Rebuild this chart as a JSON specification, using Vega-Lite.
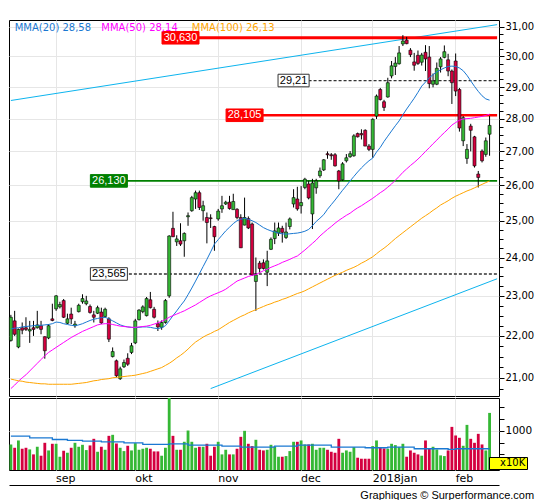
{
  "$schema": "https://vega.github.io/schema/vega-lite/v6.json",
  "description": "Candlestick chart with MMA(20/50/100), support/resistance levels, trend lines and volume panel, Aug 2017 - Feb 2018",
  "padding": {"left": 7, "top": 19, "right": 5, "bottom": 2},
  "config": {
    "view": {"stroke": "black", "strokeWidth": 1},
    "axis": {"labelColor": "black", "tickColor": "black"}
  },
  "datasets": {
    "days": [
      {"d":"2017-08-16","o":21.89,"h":22.52,"l":21.86,"c":22.46,"v":653,"vm":865,"m20":22.17,"m50":20.75,"m100":20.97},
      {"d":"2017-08-17","o":22.37,"h":22.62,"l":22.00,"c":22.04,"v":568,"vm":865,"m20":22.19,"m50":20.83,"m100":20.95},
      {"d":"2017-08-18","o":21.73,"h":22.18,"l":21.70,"c":22.16,"v":755,"vm":865,"m20":22.20,"m50":20.92,"m100":20.93},
      {"d":"2017-08-21","o":22.20,"h":22.33,"l":22.04,"c":22.14,"v":543,"vm":865,"m20":22.22,"m50":21.00,"m100":20.92},
      {"d":"2017-08-22","o":22.20,"h":22.46,"l":22.12,"c":22.16,"v":568,"vm":865,"m20":22.23,"m50":21.07,"m100":20.90},
      {"d":"2017-08-23","o":22.12,"h":22.37,"l":21.83,"c":22.16,"v":526,"vm":823,"m20":22.24,"m50":21.16,"m100":20.89},
      {"d":"2017-08-24","o":22.20,"h":22.37,"l":22.00,"c":22.16,"v":399,"vm":823,"m20":22.25,"m50":21.25,"m100":20.88},
      {"d":"2017-08-25","o":22.20,"h":22.62,"l":22.18,"c":22.27,"v":594,"vm":823,"m20":22.26,"m50":21.34,"m100":20.87},
      {"d":"2017-08-28","o":22.25,"h":22.37,"l":22.04,"c":22.16,"v":365,"vm":823,"m20":22.26,"m50":21.43,"m100":20.86},
      {"d":"2017-08-29","o":21.98,"h":21.99,"l":21.45,"c":21.64,"v":695,"vm":823,"m20":22.27,"m50":21.52,"m100":20.86},
      {"d":"2017-08-30","o":21.95,"h":22.29,"l":21.92,"c":22.25,"v":500,"vm":823,"m20":22.28,"m50":21.60,"m100":20.85},
      {"d":"2017-08-31","o":22.42,"h":22.80,"l":22.36,"c":22.38,"v":670,"vm":780,"m20":22.30,"m50":21.66,"m100":20.85},
      {"d":"2017-09-01","o":22.67,"h":23.02,"l":22.62,"c":23.00,"v":670,"vm":780,"m20":22.34,"m50":21.72,"m100":20.85},
      {"d":"2017-09-04","o":22.72,"h":22.85,"l":22.68,"c":22.78,"v":339,"vm":780,"m20":22.33,"m50":21.78,"m100":20.85},
      {"d":"2017-09-05","o":22.88,"h":22.92,"l":22.44,"c":22.46,"v":492,"vm":780,"m20":22.30,"m50":21.84,"m100":20.85},
      {"d":"2017-09-06","o":22.31,"h":22.55,"l":22.29,"c":22.42,"v":441,"vm":755,"m20":22.28,"m50":21.90,"m100":20.85},
      {"d":"2017-09-07","o":22.54,"h":22.70,"l":22.29,"c":22.42,"v":568,"vm":755,"m20":22.26,"m50":21.96,"m100":20.85},
      {"d":"2017-09-08","o":22.25,"h":22.37,"l":22.20,"c":22.29,"v":695,"vm":755,"m20":22.25,"m50":22.01,"m100":20.86},
      {"d":"2017-09-11","o":22.60,"h":22.80,"l":22.58,"c":22.76,"v":594,"vm":755,"m20":22.27,"m50":22.06,"m100":20.87},
      {"d":"2017-09-12","o":22.85,"h":23.04,"l":22.80,"c":22.93,"v":644,"vm":738,"m20":22.30,"m50":22.11,"m100":20.88},
      {"d":"2017-09-13","o":22.80,"h":23.00,"l":22.76,"c":22.87,"v":509,"vm":738,"m20":22.34,"m50":22.15,"m100":20.89},
      {"d":"2017-09-14","o":22.73,"h":22.78,"l":22.55,"c":22.58,"v":628,"vm":738,"m20":22.38,"m50":22.19,"m100":20.91},
      {"d":"2017-09-15","o":22.52,"h":22.62,"l":22.33,"c":22.46,"v":797,"vm":738,"m20":22.41,"m50":22.23,"m100":20.93},
      {"d":"2017-09-18","o":22.56,"h":22.75,"l":22.54,"c":22.70,"v":466,"vm":738,"m20":22.43,"m50":22.27,"m100":20.94},
      {"d":"2017-09-19","o":22.59,"h":22.70,"l":22.29,"c":22.32,"v":594,"vm":721,"m20":22.45,"m50":22.29,"m100":20.96},
      {"d":"2017-09-20","o":22.48,"h":22.70,"l":22.44,"c":22.66,"v":517,"vm":721,"m20":22.46,"m50":22.30,"m100":20.97},
      {"d":"2017-09-21","o":22.42,"h":22.46,"l":21.85,"c":21.92,"v":873,"vm":721,"m20":22.42,"m50":22.30,"m100":20.98},
      {"d":"2017-09-22","o":21.50,"h":21.72,"l":21.48,"c":21.62,"v":899,"vm":721,"m20":22.37,"m50":22.28,"m100":21.00},
      {"d":"2017-09-25","o":21.40,"h":21.43,"l":21.01,"c":21.05,"v":678,"vm":721,"m20":22.32,"m50":22.26,"m100":21.01},
      {"d":"2017-09-26","o":20.98,"h":21.26,"l":20.95,"c":21.21,"v":568,"vm":721,"m20":22.27,"m50":22.24,"m100":21.02},
      {"d":"2017-09-27","o":21.26,"h":21.43,"l":21.23,"c":21.36,"v":483,"vm":695,"m20":22.24,"m50":22.23,"m100":21.03},
      {"d":"2017-09-28","o":21.46,"h":21.58,"l":21.28,"c":21.32,"v":619,"vm":695,"m20":22.22,"m50":22.22,"m100":21.04},
      {"d":"2017-09-29","o":21.60,"h":21.83,"l":21.56,"c":21.76,"v":500,"vm":695,"m20":22.21,"m50":22.21,"m100":21.05},
      {"d":"2017-10-02","o":21.83,"h":22.42,"l":21.80,"c":22.37,"v":687,"vm":695,"m20":22.20,"m50":22.21,"m100":21.06},
      {"d":"2017-10-03","o":22.40,"h":22.66,"l":22.38,"c":22.64,"v":517,"vm":695,"m20":22.21,"m50":22.22,"m100":21.08},
      {"d":"2017-10-04","o":22.60,"h":22.76,"l":22.56,"c":22.72,"v":543,"vm":653,"m20":22.22,"m50":22.23,"m100":21.10},
      {"d":"2017-10-05","o":22.50,"h":22.97,"l":22.48,"c":22.93,"v":568,"vm":653,"m20":22.22,"m50":22.24,"m100":21.12},
      {"d":"2017-10-06","o":22.90,"h":23.10,"l":22.68,"c":22.70,"v":543,"vm":653,"m20":22.21,"m50":22.26,"m100":21.15},
      {"d":"2017-10-09","o":22.66,"h":22.72,"l":22.43,"c":22.46,"v":475,"vm":653,"m20":22.19,"m50":22.29,"m100":21.18},
      {"d":"2017-10-10","o":22.30,"h":22.38,"l":22.12,"c":22.22,"v":475,"vm":653,"m20":22.18,"m50":22.32,"m100":21.21},
      {"d":"2017-10-11","o":22.21,"h":22.38,"l":22.15,"c":22.33,"v":365,"vm":653,"m20":22.20,"m50":22.36,"m100":21.24},
      {"d":"2017-10-12","o":22.33,"h":22.92,"l":22.30,"c":22.88,"v":568,"vm":653,"m20":22.25,"m50":22.40,"m100":21.29},
      {"d":"2017-10-13","o":23.00,"h":24.60,"l":22.95,"c":24.58,"v":1840,"vm":670,"m20":22.37,"m50":22.46,"m100":21.34},
      {"d":"2017-10-16","o":24.79,"h":25.25,"l":24.55,"c":24.56,"v":873,"vm":670,"m20":22.50,"m50":22.50,"m100":21.40},
      {"d":"2017-10-17","o":24.42,"h":24.60,"l":24.31,"c":24.50,"v":517,"vm":670,"m20":22.62,"m50":22.54,"m100":21.47},
      {"d":"2017-10-18","o":24.45,"h":24.93,"l":24.31,"c":24.36,"v":517,"vm":670,"m20":22.75,"m50":22.58,"m100":21.53},
      {"d":"2017-10-19","o":24.45,"h":24.68,"l":24.02,"c":24.65,"v":721,"vm":670,"m20":22.87,"m50":22.62,"m100":21.60},
      {"d":"2017-10-20","o":25.11,"h":25.23,"l":24.86,"c":25.14,"v":1009,"vm":636,"m20":23.03,"m50":22.67,"m100":21.68},
      {"d":"2017-10-23","o":25.28,"h":25.70,"l":25.25,"c":25.65,"v":721,"vm":636,"m20":23.20,"m50":22.72,"m100":21.77},
      {"d":"2017-10-24","o":25.61,"h":25.85,"l":25.33,"c":25.79,"v":568,"vm":636,"m20":23.38,"m50":22.77,"m100":21.85},
      {"d":"2017-10-25","o":25.79,"h":25.85,"l":25.30,"c":25.37,"v":594,"vm":636,"m20":23.57,"m50":22.83,"m100":21.91},
      {"d":"2017-10-26","o":25.28,"h":25.56,"l":25.00,"c":25.42,"v":594,"vm":636,"m20":23.76,"m50":22.89,"m100":21.97},
      {"d":"2017-10-27","o":25.09,"h":25.23,"l":24.38,"c":24.95,"v":670,"vm":636,"m20":23.95,"m50":22.95,"m100":22.02},
      {"d":"2017-10-30","o":25.08,"h":25.18,"l":24.80,"c":25.06,"v":365,"vm":636,"m20":24.15,"m50":23.00,"m100":22.06},
      {"d":"2017-10-31","o":24.84,"h":24.86,"l":24.18,"c":24.56,"v":594,"vm":636,"m20":24.36,"m50":23.04,"m100":22.11},
      {"d":"2017-11-01","o":25.05,"h":25.33,"l":25.00,"c":25.27,"v":721,"vm":636,"m20":24.48,"m50":23.08,"m100":22.15},
      {"d":"2017-11-02","o":25.33,"h":25.70,"l":25.22,"c":25.42,"v":399,"vm":611,"m20":24.60,"m50":23.12,"m100":22.21},
      {"d":"2017-11-03","o":25.47,"h":25.56,"l":25.44,"c":25.52,"v":517,"vm":611,"m20":24.72,"m50":23.17,"m100":22.27},
      {"d":"2017-11-06","o":25.52,"h":25.70,"l":25.31,"c":25.34,"v":399,"vm":611,"m20":24.82,"m50":23.24,"m100":22.33},
      {"d":"2017-11-07","o":25.31,"h":25.76,"l":25.31,"c":25.54,"v":399,"vm":611,"m20":24.92,"m50":23.31,"m100":22.38},
      {"d":"2017-11-08","o":25.32,"h":25.35,"l":25.04,"c":25.09,"v":543,"vm":611,"m20":25.00,"m50":23.38,"m100":22.43},
      {"d":"2017-11-09","o":25.09,"h":25.18,"l":24.26,"c":24.26,"v":848,"vm":585,"m20":25.04,"m50":23.42,"m100":22.48},
      {"d":"2017-11-10","o":24.88,"h":25.65,"l":24.87,"c":25.09,"v":1001,"vm":585,"m20":25.07,"m50":23.46,"m100":22.52},
      {"d":"2017-11-13","o":25.06,"h":25.12,"l":24.77,"c":24.80,"v":670,"vm":585,"m20":25.04,"m50":23.50,"m100":22.57},
      {"d":"2017-11-14","o":24.91,"h":24.95,"l":23.52,"c":23.54,"v":611,"vm":585,"m20":25.00,"m50":23.53,"m100":22.61},
      {"d":"2017-11-15","o":23.37,"h":24.00,"l":22.62,"c":23.54,"v":772,"vm":585,"m20":24.95,"m50":23.55,"m100":22.65},
      {"d":"2017-11-16","o":23.85,"h":23.91,"l":23.60,"c":23.71,"v":517,"vm":585,"m20":24.88,"m50":23.60,"m100":22.69},
      {"d":"2017-11-17","o":23.86,"h":23.95,"l":23.68,"c":23.71,"v":500,"vm":585,"m20":24.81,"m50":23.65,"m100":22.73},
      {"d":"2017-11-20","o":23.61,"h":24.18,"l":23.25,"c":23.91,"v":517,"vm":585,"m20":24.76,"m50":23.69,"m100":22.77},
      {"d":"2017-11-21","o":24.22,"h":24.54,"l":24.20,"c":24.49,"v":644,"vm":585,"m20":24.72,"m50":23.74,"m100":22.80},
      {"d":"2017-11-22","o":24.51,"h":24.95,"l":24.36,"c":24.72,"v":600,"vm":611,"m20":24.69,"m50":23.78,"m100":22.84},
      {"d":"2017-11-23","o":24.66,"h":24.95,"l":24.58,"c":24.80,"v":339,"vm":611,"m20":24.66,"m50":23.82,"m100":22.87},
      {"d":"2017-11-24","o":24.79,"h":24.86,"l":24.40,"c":24.68,"v":339,"vm":611,"m20":24.64,"m50":23.87,"m100":22.91},
      {"d":"2017-11-27","o":24.54,"h":24.95,"l":24.50,"c":24.69,"v":356,"vm":611,"m20":24.63,"m50":23.91,"m100":22.94},
      {"d":"2017-11-28","o":24.84,"h":25.09,"l":24.76,"c":25.05,"v":483,"vm":611,"m20":24.64,"m50":23.95,"m100":22.98},
      {"d":"2017-11-29","o":25.47,"h":25.89,"l":25.37,"c":25.65,"v":721,"vm":611,"m20":24.65,"m50":24.00,"m100":23.02},
      {"d":"2017-11-30","o":25.61,"h":25.96,"l":25.28,"c":25.33,"v":721,"vm":636,"m20":24.66,"m50":24.04,"m100":23.06},
      {"d":"2017-12-01","o":25.42,"h":25.98,"l":25.20,"c":25.51,"v":755,"vm":636,"m20":24.68,"m50":24.12,"m100":23.09},
      {"d":"2017-12-04","o":25.94,"h":26.22,"l":25.89,"c":26.18,"v":653,"vm":636,"m20":24.71,"m50":24.20,"m100":23.13},
      {"d":"2017-12-05","o":26.04,"h":26.13,"l":25.60,"c":25.64,"v":653,"vm":636,"m20":24.76,"m50":24.29,"m100":23.18},
      {"d":"2017-12-06","o":25.19,"h":26.19,"l":24.77,"c":26.07,"v":670,"vm":636,"m20":24.86,"m50":24.38,"m100":23.23},
      {"d":"2017-12-07","o":25.93,"h":26.19,"l":25.76,"c":26.13,"v":517,"vm":636,"m20":24.98,"m50":24.47,"m100":23.28},
      {"d":"2017-12-08","o":26.28,"h":26.52,"l":26.22,"c":26.42,"v":568,"vm":636,"m20":25.07,"m50":24.58,"m100":23.33},
      {"d":"2017-12-11","o":26.45,"h":26.77,"l":26.42,"c":26.75,"v":568,"vm":636,"m20":25.17,"m50":24.67,"m100":23.38},
      {"d":"2017-12-12","o":26.93,"h":27.00,"l":26.78,"c":26.90,"v":517,"vm":636,"m20":25.32,"m50":24.76,"m100":23.43},
      {"d":"2017-12-13","o":26.90,"h":26.95,"l":26.75,"c":26.87,"v":466,"vm":585,"m20":25.45,"m50":24.84,"m100":23.48},
      {"d":"2017-12-14","o":26.90,"h":26.95,"l":26.55,"c":26.57,"v":441,"vm":585,"m20":25.58,"m50":24.93,"m100":23.53},
      {"d":"2017-12-15","o":26.42,"h":26.45,"l":25.89,"c":26.13,"v":797,"vm":585,"m20":25.72,"m50":25.01,"m100":23.57},
      {"d":"2017-12-18","o":26.16,"h":26.68,"l":26.13,"c":26.63,"v":441,"vm":585,"m20":25.86,"m50":25.08,"m100":23.61},
      {"d":"2017-12-19","o":26.72,"h":26.92,"l":26.67,"c":26.81,"v":500,"vm":585,"m20":25.99,"m50":25.15,"m100":23.66},
      {"d":"2017-12-20","o":26.84,"h":27.01,"l":26.81,"c":26.93,"v":466,"vm":585,"m20":26.13,"m50":25.21,"m100":23.70},
      {"d":"2017-12-21","o":26.87,"h":27.52,"l":26.84,"c":27.47,"v":585,"vm":585,"m20":26.26,"m50":25.29,"m100":23.74},
      {"d":"2017-12-22","o":27.54,"h":27.57,"l":27.42,"c":27.44,"v":314,"vm":585,"m20":26.39,"m50":25.36,"m100":23.79},
      {"d":"2017-12-27","o":27.54,"h":27.67,"l":27.36,"c":27.50,"v":288,"vm":585,"m20":26.51,"m50":25.42,"m100":23.85},
      {"d":"2017-12-28","o":27.64,"h":27.67,"l":27.16,"c":27.16,"v":288,"vm":568,"m20":26.62,"m50":25.49,"m100":23.90},
      {"d":"2017-12-29","o":27.16,"h":27.22,"l":27.01,"c":27.06,"v":288,"vm":568,"m20":26.72,"m50":25.56,"m100":23.96},
      {"d":"2018-01-02","o":27.06,"h":28.01,"l":26.81,"c":27.98,"v":611,"vm":568,"m20":26.80,"m50":25.63,"m100":24.02},
      {"d":"2018-01-03","o":28.08,"h":28.76,"l":27.99,"c":28.71,"v":755,"vm":568,"m20":26.98,"m50":25.71,"m100":24.10},
      {"d":"2018-01-04","o":28.92,"h":28.97,"l":28.57,"c":28.60,"v":585,"vm":568,"m20":27.12,"m50":25.79,"m100":24.18},
      {"d":"2018-01-05","o":28.53,"h":28.59,"l":28.24,"c":28.35,"v":551,"vm":568,"m20":27.30,"m50":25.86,"m100":24.25},
      {"d":"2018-01-08","o":28.68,"h":29.30,"l":28.66,"c":29.14,"v":543,"vm":585,"m20":27.46,"m50":25.95,"m100":24.33},
      {"d":"2018-01-09","o":29.36,"h":29.85,"l":29.28,"c":29.69,"v":670,"vm":585,"m20":27.62,"m50":26.04,"m100":24.42},
      {"d":"2018-01-10","o":29.67,"h":29.98,"l":29.39,"c":29.78,"v":636,"vm":585,"m20":27.78,"m50":26.15,"m100":24.51},
      {"d":"2018-01-11","o":29.76,"h":30.35,"l":29.73,"c":30.12,"v":585,"vm":585,"m20":27.93,"m50":26.26,"m100":24.59},
      {"d":"2018-01-12","o":30.42,"h":30.72,"l":30.35,"c":30.52,"v":670,"vm":585,"m20":28.12,"m50":26.38,"m100":24.67},
      {"d":"2018-01-15","o":30.55,"h":30.66,"l":30.41,"c":30.43,"v":339,"vm":585,"m20":28.30,"m50":26.48,"m100":24.75},
      {"d":"2018-01-16","o":30.21,"h":30.28,"l":29.98,"c":30.06,"v":500,"vm":585,"m20":28.47,"m50":26.58,"m100":24.83},
      {"d":"2018-01-17","o":29.82,"h":30.12,"l":29.53,"c":29.71,"v":441,"vm":543,"m20":28.64,"m50":26.67,"m100":24.91},
      {"d":"2018-01-18","o":30.04,"h":30.20,"l":29.72,"c":29.77,"v":399,"vm":543,"m20":28.83,"m50":26.77,"m100":24.99},
      {"d":"2018-01-19","o":29.81,"h":30.12,"l":29.70,"c":30.05,"v":365,"vm":543,"m20":29.03,"m50":26.88,"m100":25.07},
      {"d":"2018-01-22","o":30.14,"h":30.38,"l":29.52,"c":29.92,"v":755,"vm":543,"m20":29.16,"m50":27.00,"m100":25.14},
      {"d":"2018-01-23","o":29.98,"h":30.35,"l":28.96,"c":29.11,"v":543,"vm":543,"m20":29.30,"m50":27.11,"m100":25.21},
      {"d":"2018-01-24","o":29.09,"h":29.44,"l":28.99,"c":29.20,"v":594,"vm":543,"m20":29.40,"m50":27.23,"m100":25.29},
      {"d":"2018-01-25","o":29.09,"h":29.80,"l":29.06,"c":29.61,"v":526,"vm":543,"m20":29.49,"m50":27.34,"m100":25.36},
      {"d":"2018-01-26","o":29.66,"h":29.98,"l":29.47,"c":29.92,"v":373,"vm":543,"m20":29.56,"m50":27.46,"m100":25.44},
      {"d":"2018-01-29","o":29.97,"h":30.37,"l":29.94,"c":30.16,"v":356,"vm":543,"m20":29.62,"m50":27.57,"m100":25.50},
      {"d":"2018-01-30","o":29.89,"h":30.09,"l":29.35,"c":29.52,"v":500,"vm":526,"m20":29.67,"m50":27.68,"m100":25.56},
      {"d":"2018-01-31","o":29.52,"h":29.57,"l":28.46,"c":29.14,"v":1102,"vm":526,"m20":29.68,"m50":27.80,"m100":25.63},
      {"d":"2018-02-01","o":29.85,"h":30.10,"l":28.71,"c":28.87,"v":882,"vm":543,"m20":29.67,"m50":27.88,"m100":25.69},
      {"d":"2018-02-02","o":28.92,"h":28.97,"l":27.60,"c":27.71,"v":823,"vm":543,"m20":29.62,"m50":27.95,"m100":25.74},
      {"d":"2018-02-05","o":27.32,"h":28.08,"l":27.16,"c":28.03,"v":619,"vm":543,"m20":29.53,"m50":27.99,"m100":25.79},
      {"d":"2018-02-06","o":26.79,"h":27.22,"l":26.63,"c":27.06,"v":1153,"vm":543,"m20":29.38,"m50":28.00,"m100":25.84},
      {"d":"2018-02-07","o":27.77,"h":27.84,"l":27.00,"c":27.64,"v":797,"vm":543,"m20":29.20,"m50":28.01,"m100":25.88},
      {"d":"2018-02-08","o":27.44,"h":27.47,"l":26.52,"c":26.57,"v":695,"vm":543,"m20":29.02,"m50":28.03,"m100":25.93},
      {"d":"2018-02-09","o":26.33,"h":26.42,"l":25.94,"c":26.23,"v":924,"vm":543,"m20":28.86,"m50":28.05,"m100":25.98},
      {"d":"2018-02-12","o":27.01,"h":27.06,"l":26.67,"c":26.72,"v":653,"vm":543,"m20":28.72,"m50":28.07,"m100":26.03},
      {"d":"2018-02-13","o":26.91,"h":27.42,"l":26.84,"c":27.32,"v":500,"vm":543,"m20":28.62,"m50":28.10,"m100":26.08},
      {"d":"2018-02-14","o":27.52,"h":28.08,"l":26.87,"c":27.79,"v":1459,"vm":543,"m20":28.58,"m50":28.14,"m100":26.13}
    ],
    "trend": [
      {"d": "2017-08-16", "p": 28.57, "n": "upper"},
      {"d": "2018-02-16", "p": 31.08, "n": "upper"},
      {"d": "2017-10-30", "p": 20.75, "n": "lower"},
      {"d": "2018-02-16", "p": 23.44, "n": "lower"}
    ],
    "levels": [
      {"d": "2017-10-18", "v": 30.63, "t": "30,630", "k": "r"},
      {"d": "2017-11-10", "v": 28.105, "t": "28,105", "k": "t"},
      {"d": "2017-09-21", "v": 26.13, "t": "26,130", "k": "g"},
      {"d": "2017-11-29", "v": 29.21, "t": "29,21", "k": "n"},
      {"d": "2017-09-21", "v": 23.565, "t": "23,565", "k": "n"}
    ],
    "leg": [
      {"d": "2017-08-17", "t": "MMA(20)  28,58", "k": "m20"},
      {"d": "2017-09-19", "t": "MMA(50)  28,14", "k": "m50"},
      {"d": "2017-10-23", "t": "MMA(100)  26,13", "k": "m100"}
    ]
  },
  "title": {
    "text": "Graphiques © Surperformance.com",
    "orient": "bottom",
    "anchor": "end",
    "frame": "bounds",
    "font": "Liberation Sans",
    "fontSize": 11,
    "fontWeight": "normal",
    "color": "black",
    "offset": 4
  },
  "spacing": 0,
  "resolve": {"scale": {"x": "shared"}, "axis": {"x": "independent"}},
  "vconcat": [
    {
      "width": 490,
      "height": 376,
      "encoding": {
        "x": {
          "field": "d",
          "type": "ordinal",
          "scale": {"paddingInner": 0, "paddingOuter": 0, "align": 0, "round": false, "domain": {"unionWith": ["2018-02-15", "2018-02-16"]}},
          "axis": {
            "values": ["2017-09-01", "2017-10-02", "2017-11-01", "2017-12-01", "2018-01-02", "2018-02-01"],
            "labels": false,
            "ticks": false,
            "domain": false,
            "grid": true,
            "gridColor": "#e6e6e6",
            "bandPosition": 0.5,
            "title": null
          }
        }
      },
      "layer": [
        {
          "data": {"name": "trend"},
          "mark": {"type": "line", "color": "#0db4ee", "strokeWidth": 1, "clip": true},
          "encoding": {
            "y": {"field": "p", "type": "quantitative", "scale": {"type": "log", "domain": [20.58, 31.24], "nice": false}, "axis": null},
            "detail": {"field": "n"}
          }
        },
        {
          "data": {"name": "levels"},
          "mark": {"type": "rule", "clip": true},
          "encoding": {
            "x2": {"datum": "2018-02-16"},
            "y": {"field": "v", "type": "quantitative", "scale": {"type": "log", "domain": [20.58, 31.24], "nice": false}, "axis": null},
            "color": {"field": "k", "type": "nominal", "scale": {"domain": ["r", "t", "g", "n"], "range": ["#ff0000", "#ff0000", "#008000", "#333333"]}, "legend": null},
            "strokeWidth": {"field": "k", "type": "ordinal", "scale": {"domain": ["r", "t", "g", "n"], "range": [3, 1.3, 3, 1]}, "legend": null},
            "strokeDash": {"field": "k", "type": "nominal", "scale": {"domain": ["r", "t", "g", "n"], "range": [[1, 0], [1, 0], [1, 0], [3, 2]]}, "legend": null}
          }
        },
        {
          "data": {"name": "days"},
          "mark": {"type": "rule", "color": "black", "strokeWidth": 1},
          "encoding": {
            "y": {
              "field": "l",
              "type": "quantitative",
              "scale": {"type": "log", "domain": [20.58, 31.24], "nice": false},
              "axis": {
                "orient": "right",
                "values": [20.75, 21, 21.25, 21.5, 21.75, 22, 22.25, 22.5, 22.75, 23, 23.25, 23.5, 23.75, 24, 24.25, 24.5, 24.75, 25, 25.25, 25.5, 25.75, 26, 26.25, 26.5, 26.75, 27, 27.25, 27.5, 27.75, 28, 28.25, 28.5, 28.75, 29, 29.25, 29.5, 29.75, 30, 30.25, 30.5, 30.75, 31],
                "labelExpr": "datum.value % 1 === 0 ? replace(format(datum.value, '.2f'), '.', ',') : ''",
                "tickSize": {"condition": {"test": "datum.value % 1 === 0", "value": 5}, "value": 4},
                "grid": true,
                "gridColor": "#e6e6e6",
                "gridOpacity": {"condition": {"test": "datum.value % 1 === 0", "value": 1}, "value": 0},
                "domain": false,
                "labelFont": "DejaVu Sans",
                "labelFontSize": 10,
                "labelPadding": 1,
                "labelOverlap": false,
                "labelFlush": false,
                "title": null
              }
            },
            "y2": {"field": "h"}
          }
        },
        {
          "data": {"name": "days"},
          "mark": {"type": "bar", "width": {"band": 0.8}, "stroke": "black", "strokeWidth": 0.6},
          "encoding": {
            "y": {"field": "o", "type": "quantitative", "scale": {"type": "log", "domain": [20.58, 31.24], "nice": false}, "axis": null},
            "y2": {"field": "c"},
            "color": {"condition": {"test": "datum.c >= datum.o", "value": "#35b835"}, "value": "#d4003f"}
          }
        },
        {
          "data": {"name": "days"},
          "mark": {"type": "line", "color": "#1a78d2", "strokeWidth": 1},
          "encoding": {"y": {"field": "m20", "type": "quantitative", "scale": {"type": "log", "domain": [20.58, 31.24], "nice": false}, "axis": null}}
        },
        {
          "data": {"name": "days"},
          "mark": {"type": "line", "color": "#ff00ff", "strokeWidth": 1},
          "encoding": {"y": {"field": "m50", "type": "quantitative", "scale": {"type": "log", "domain": [20.58, 31.24], "nice": false}, "axis": null}}
        },
        {
          "data": {"name": "days"},
          "mark": {"type": "line", "color": "#ffa500", "strokeWidth": 1},
          "encoding": {"y": {"field": "m100", "type": "quantitative", "scale": {"type": "log", "domain": [20.58, 31.24], "nice": false}, "axis": null}}
        },
        {
          "data": {"name": "levels"},
          "mark": {"type": "point", "filled": true, "size": 1369, "strokeWidth": 1, "opacity": 1},
          "encoding": {
            "y": {"field": "v", "type": "quantitative", "scale": {"type": "log", "domain": [20.58, 31.24], "nice": false}, "axis": null},
            "shape": {"condition": {"test": "datum.t === '29,21'", "value": "M-0.84,-0.34H0.84V0.34H-0.84Z"}, "value": "M-1,-0.34H1V0.34H-1Z"},
            "fill": {"condition": [{"test": "datum.k === 'g'", "value": "#008000"}, {"test": "datum.k === 'n'", "value": "#ffffff"}], "value": "#ff0000"},
            "stroke": {"condition": [{"test": "datum.k === 'g'", "value": "#008000"}, {"test": "datum.k === 'n'", "value": "#333333"}], "value": "#ff0000"}
          }
        },
        {
          "data": {"name": "levels"},
          "mark": {"type": "text", "font": "Liberation Sans", "fontSize": 11, "align": "center", "baseline": "middle"},
          "encoding": {
            "y": {"field": "v", "type": "quantitative", "scale": {"type": "log", "domain": [20.58, 31.24], "nice": false}, "axis": null},
            "text": {"field": "t"},
            "color": {"condition": {"test": "datum.k === 'n'", "value": "black"}, "value": "white"}
          }
        },
        {
          "data": {"name": "leg"},
          "mark": {"type": "text", "font": "DejaVu Sans", "fontSize": 10, "align": "left", "baseline": "middle"},
          "encoding": {
            "y": {"datum": 30.97, "type": "quantitative", "scale": {"type": "log", "domain": [20.58, 31.24], "nice": false}, "axis": null},
            "text": {"field": "t"},
            "color": {"condition": [{"test": "datum.k === 'm20'", "value": "#1a78d2"}, {"test": "datum.k === 'm50'", "value": "#ff00ff"}], "value": "#ffa500"}
          }
        }
      ],
      "resolve": {"axis": {"y": "independent"}}
    },
    {
      "width": 490,
      "height": 72,
      "data": {"name": "days"},
      "encoding": {
        "x": {
          "field": "d",
          "type": "ordinal",
          "scale": {"paddingInner": 0, "paddingOuter": 0, "align": 0, "round": false, "domain": {"unionWith": ["2018-02-15", "2018-02-16"]}},
          "axis": {
            "values": ["2017-09-01", "2017-10-02", "2017-11-01", "2017-12-01", "2018-01-02", "2018-02-01"],
            "labelExpr": "datum.value == '2017-09-01' ? 'sep' : datum.value == '2017-10-02' ? 'okt' : datum.value == '2017-11-01' ? 'nov' : datum.value == '2017-12-01' ? 'dec' : datum.value == '2018-01-02' ? '2018jan' : 'feb'",
            "labelAlign": "left",
            "labelAngle": 0,
            "labelPadding": 2,
            "labelFont": "DejaVu Sans",
            "labelFontSize": 11,
            "labelOverlap": false,
            "ticks": false,
            "domain": false,
            "grid": true,
            "gridColor": "#e6e6e6",
            "bandPosition": 0.5,
            "title": null
          }
        }
      },
      "layer": [
        {
          "mark": {"type": "bar", "width": {"band": 0.75}},
          "encoding": {
            "y": {
              "field": "v",
              "type": "quantitative",
              "scale": {"domain": [0, 1840], "nice": false},
              "axis": {
                "orient": "right",
                "values": [100, 400, 700, 1000, 1300, 1600],
                "labelExpr": "datum.value === 1000 ? '1000' : ''",
                "tickSize": 5,
                "grid": true,
                "gridColor": "#e6e6e6",
                "gridOpacity": {"condition": {"test": "datum.value === 1000", "value": 1}, "value": 0},
                "domain": false,
                "labelFont": "DejaVu Sans",
                "labelFontSize": 10.5,
                "labelPadding": 1,
                "labelOverlap": false,
                "title": null
              }
            },
            "color": {"condition": {"test": "datum.c >= datum.o", "value": "#35b835"}, "value": "#d4003f"},
            "opacity": {
              "datum": "x10K",
              "type": "ordinal",
              "scale": {"range": [1]},
              "legend": {
                "orient": "none",
                "legendX": 480,
                "legendY": 437,
                "title": null,
                "labelFont": "DejaVu Sans",
                "labelFontSize": 10,
                "labelColor": "black",
                "symbolSize": 0,
                "symbolStrokeWidth": 0,
                "symbolOpacity": 0,
                "labelOffset": 0,
                "fillColor": "#ffff00",
                "strokeColor": "black",
                "padding": 1
              }
            }
          }
        },
        {
          "mark": {"type": "line", "color": "#1a78d2", "strokeWidth": 1.3, "interpolate": "step-after"},
          "encoding": {
            "x": {
              "field": "d",
              "type": "ordinal",
              "axis": {"orient": "bottom", "offset": 15, "labels": false, "ticks": false, "grid": false, "domain": true, "domainColor": "black", "domainWidth": 1, "title": null}
            },
            "y": {"field": "vm", "type": "quantitative", "scale": {"domain": [0, 1840], "nice": false}, "axis": null}
          }
        }
      ],
      "resolve": {"axis": {"x": "independent", "y": "independent"}}
    }
  ]
}
